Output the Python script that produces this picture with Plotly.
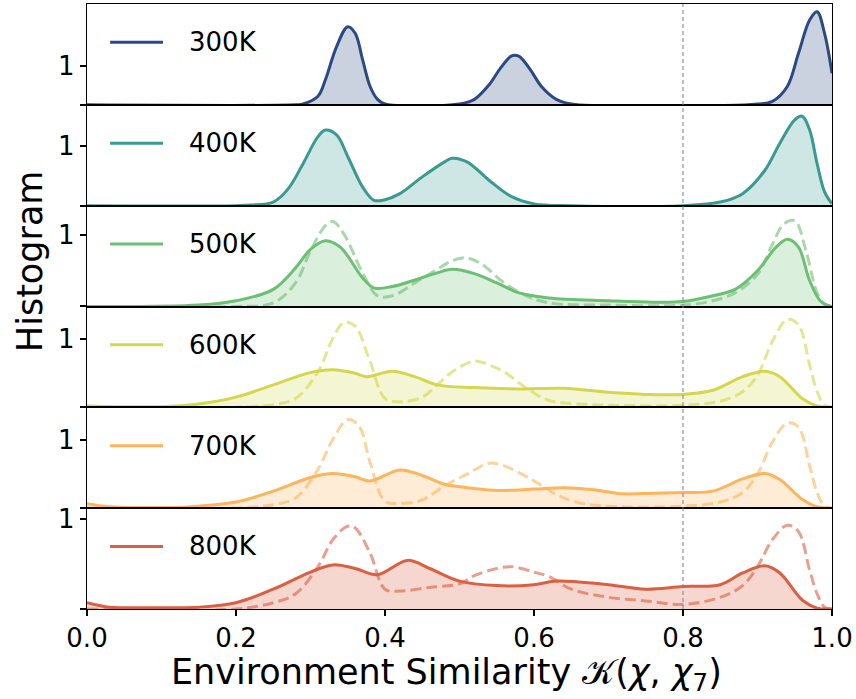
import plotly.graph_objects as go
from plotly.subplots import make_subplots

labels = ["300K", "400K", "500K", "600K", "700K", "800K"]
colors = ["#2b4a84", "#3a9a92", "#6dbf73", "#d4d64c", "#fdb45a", "#db5f43"]

x300 = [0, 0.28, 0.29, 0.31, 0.32, 0.335, 0.35, 0.36, 0.37, 0.38, 0.39, 0.40, 0.50, 0.52, 0.54, 0.555, 0.57, 0.58, 0.595, 0.61, 0.63, 0.65, 0.90, 0.92, 0.94, 0.955, 0.97, 0.98, 0.99, 1.0]
y300 = [0, 0, 0.02, 0.22, 0.64, 1.49, 2.0, 1.83, 1.15, 0.47, 0.14, 0.02, 0.02, 0.14, 0.52, 0.94, 1.25, 1.24, 0.90, 0.47, 0.14, 0.02, 0.02, 0.09, 0.47, 1.32, 2.17, 2.38, 1.83, 0.81]

x400 = [0, 0.20, 0.22, 0.25, 0.27, 0.29, 0.31, 0.32, 0.335, 0.35, 0.37, 0.385, 0.40, 0.42, 0.45, 0.48, 0.49, 0.51, 0.54, 0.57, 0.60, 0.65, 0.80, 0.85, 0.88, 0.91, 0.93, 0.95, 0.96, 0.97, 0.98, 0.99, 1.0]
y400 = [0, 0, 0.01, 0.06, 0.28, 0.70, 1.15, 1.26, 1.18, 0.82, 0.31, 0.09, 0.10, 0.20, 0.48, 0.73, 0.79, 0.73, 0.42, 0.15, 0.03, 0.0, 0.0, 0.06, 0.20, 0.59, 1.04, 1.43, 1.49, 1.26, 0.70, 0.23, 0.03]

x500 = [0, 0.15, 0.20, 0.25, 0.28, 0.30, 0.32, 0.34, 0.37, 0.385, 0.41, 0.44, 0.47, 0.49, 0.52, 0.55, 0.58, 0.62, 0.70, 0.76, 0.80, 0.84, 0.87, 0.90, 0.925, 0.94, 0.955, 0.97, 0.985, 1.0]
y500 = [0, 0.02, 0.08, 0.24, 0.54, 0.80, 0.92, 0.83, 0.40, 0.26, 0.28, 0.37, 0.47, 0.52, 0.46, 0.33, 0.19, 0.12, 0.08, 0.06, 0.07, 0.15, 0.24, 0.50, 0.83, 0.94, 0.83, 0.36, 0.07, 0]
x500_ref = [0, 0.20, 0.25, 0.28, 0.30, 0.32, 0.33, 0.345, 0.37, 0.39, 0.41, 0.44, 0.47, 0.49, 0.51, 0.53, 0.56, 0.59, 0.62, 0.70, 0.80, 0.84, 0.87, 0.90, 0.92, 0.935, 0.95, 0.965, 0.98, 0.99, 1.0]
y500_ref = [0, 0, 0.05, 0.33, 0.78, 1.13, 1.19, 1.01, 0.47, 0.15, 0.15, 0.33, 0.52, 0.64, 0.68, 0.59, 0.33, 0.15, 0.05, 0.02, 0.02, 0.08, 0.19, 0.45, 0.87, 1.15, 1.20, 0.78, 0.19, 0.03, 0]

x600 = [0, 0.10, 0.15, 0.20, 0.25, 0.30, 0.33, 0.36, 0.375, 0.41, 0.44, 0.47, 0.52, 0.58, 0.64, 0.70, 0.75, 0.80, 0.84, 0.88, 0.91, 0.93, 0.96, 0.98, 1.0]
y600 = [0.02, 0.01, 0.05, 0.15, 0.33, 0.51, 0.55, 0.50, 0.45, 0.53, 0.45, 0.33, 0.29, 0.27, 0.28, 0.22, 0.19, 0.19, 0.25, 0.45, 0.53, 0.45, 0.13, 0.02, 0]
x600_ref = [0, 0.20, 0.25, 0.28, 0.31, 0.33, 0.345, 0.36, 0.38, 0.40, 0.42, 0.45, 0.47, 0.49, 0.52, 0.54, 0.56, 0.59, 0.62, 0.66, 0.70, 0.80, 0.85, 0.88, 0.90, 0.92, 0.94, 0.955, 0.97, 0.98, 0.99, 1.0]
y600_ref = [0, 0, 0.04, 0.13, 0.52, 1.01, 1.25, 1.19, 0.67, 0.13, 0.08, 0.15, 0.33, 0.52, 0.68, 0.62, 0.52, 0.28, 0.10, 0.05, 0.03, 0.03, 0.09, 0.23, 0.47, 0.97, 1.29, 1.21, 0.62, 0.23, 0.03, 0]

x700 = [0, 0.03, 0.10, 0.15, 0.20, 0.25, 0.30, 0.33, 0.36, 0.38, 0.42, 0.45, 0.48, 0.52, 0.55, 0.60, 0.64, 0.68, 0.72, 0.76, 0.80, 0.84, 0.88, 0.91, 0.93, 0.96, 0.98, 1.0]
y700 = [0.065, 0.02, 0.01, 0.03, 0.09, 0.25, 0.45, 0.51, 0.46, 0.40, 0.56, 0.48, 0.35, 0.29, 0.26, 0.28, 0.30, 0.27, 0.21, 0.22, 0.23, 0.25, 0.43, 0.51, 0.42, 0.13, 0.02, 0]
x700_ref = [0, 0.20, 0.25, 0.28, 0.31, 0.33, 0.35, 0.365, 0.38, 0.40, 0.42, 0.45, 0.48, 0.51, 0.54, 0.56, 0.60, 0.63, 0.66, 0.70, 0.80, 0.85, 0.88, 0.90, 0.92, 0.94, 0.955, 0.97, 0.98, 0.99, 1.0]
y700_ref = [0, 0, 0.05, 0.15, 0.57, 1.01, 1.30, 1.21, 0.67, 0.10, 0.07, 0.12, 0.33, 0.50, 0.66, 0.62, 0.40, 0.20, 0.08, 0.03, 0.03, 0.09, 0.23, 0.50, 0.97, 1.25, 1.19, 0.62, 0.23, 0.03, 0]

x800 = [0, 0.03, 0.05, 0.10, 0.15, 0.20, 0.25, 0.30, 0.33, 0.36, 0.39, 0.43, 0.46, 0.50, 0.55, 0.60, 0.63, 0.66, 0.70, 0.75, 0.80, 0.85, 0.88, 0.91, 0.93, 0.96, 0.98, 1.0]
y800 = [0.07, 0.02, 0.015, 0.015, 0.02, 0.07, 0.22, 0.41, 0.49, 0.45, 0.38, 0.54, 0.45, 0.31, 0.26, 0.27, 0.31, 0.30, 0.27, 0.22, 0.25, 0.27, 0.40, 0.48, 0.40, 0.10, 0.01, 0]
x800_ref = [0, 0.20, 0.25, 0.28, 0.31, 0.33, 0.35, 0.36, 0.38, 0.40, 0.42, 0.46, 0.50, 0.52, 0.55, 0.57, 0.60, 0.62, 0.65, 0.70, 0.75, 0.80, 0.85, 0.88, 0.90, 0.92, 0.94, 0.955, 0.97, 0.98, 0.99, 1.0]
y800_ref = [0, 0, 0.07, 0.17, 0.47, 0.77, 0.92, 0.90, 0.62, 0.22, 0.20, 0.24, 0.28, 0.37, 0.45, 0.47, 0.41, 0.36, 0.22, 0.13, 0.09, 0.05, 0.13, 0.26, 0.47, 0.77, 0.93, 0.86, 0.43, 0.17, 0.02, 0]

series = [(x300, y300), (x400, y400), (x500, y500), (x600, y600), (x700, y700), (x800, y800)]
refs = [None, None, (x500_ref, y500_ref), (x600_ref, y600_ref), (x700_ref, y700_ref), (x800_ref, y800_ref)]
y_tops = [2.58, 1.68, 1.41, 1.48, 1.48, 1.12]

x_ticks = [0.0, 0.2, 0.4, 0.6, 0.8, 1.0]
x_ticktext = ["0.0", "0.2", "0.4", "0.6", "0.8", "1.0"]


def rgba(hex_color, a):
    h = hex_color.lstrip("#")
    r, g, b = int(h[0:2], 16), int(h[2:4], 16), int(h[4:6], 16)
    return f"rgba({r},{g},{b},{a})"


FONT = "DejaVu Sans"
fig = make_subplots(rows=6, cols=1, shared_xaxes=True, vertical_spacing=0)

for i, ((xs, ys), ref, col, lab) in enumerate(zip(series, refs, colors, labels)):
    row = i + 1
    fig.add_trace(go.Scatter(x=xs, y=ys, mode="lines", line=dict(color=col, width=3, shape="spline", smoothing=1.0),
                             fill="tozeroy", fillcolor=rgba(col, 0.25), name=lab, showlegend=False),
                  row=row, col=1)
    if ref is not None:
        fig.add_trace(go.Scatter(x=ref[0], y=ref[1], mode="lines",
                                 line=dict(color=rgba(col, 0.6), width=3, dash="11px,5px", shape="spline", smoothing=1.0),
                                 showlegend=False, name=lab + " ref"),
                      row=row, col=1)
    fig.update_yaxes(range=[0, y_tops[i]], tickvals=[1], ticktext=["1"], ticks="outside", ticklen=6,
                     tickwidth=1.5, tickcolor="black", showline=True, mirror=True, linecolor="black", linewidth=1.3,
                     minor=dict(tickvals=[0], ticks="outside", ticklen=6, tickwidth=1.5, tickcolor="black",
                                showgrid=False),
                     showgrid=False, zeroline=False, automargin=False,
                     tickfont=dict(family=FONT, size=26, color="black"),
                     row=row, col=1)
    xa = "x" if row == 1 else f"x{row}"
    ya = "y" if row == 1 else f"y{row}"
    fig.add_shape(type="line", xref=xa, yref=f"{ya} domain", x0=0.031, x1=0.102, y0=0.62, y1=0.62,
                  line=dict(color=col, width=3))
    fig.add_annotation(xref=xa, yref=f"{ya} domain", x=0.134, y=0.62, xanchor="left", yanchor="middle",
                       text=lab, showarrow=False, font=dict(family=FONT, size=26, color="black"))

fig.update_xaxes(range=[0, 1], showline=True, mirror=True, linecolor="black", linewidth=1.3, showgrid=False,
                 zeroline=False, ticks="", showticklabels=False, automargin=False)
fig.update_xaxes(tickvals=x_ticks, ticktext=x_ticktext, ticks="outside", ticklen=6, tickwidth=1.5, tickcolor="black",
                 showticklabels=True, tickfont=dict(family=FONT, size=26, color="black"), row=6, col=1)

fig.add_shape(type="line", xref="x6", yref="paper", x0=0.8, x1=0.8, y0=0, y1=1, layer="above",
              line=dict(color="gray", width=1, dash="4px,3px"))

fig.add_annotation(xref="paper", yref="paper", x=-0.0765, y=0.575, text="Histogram", textangle=-90,
                   showarrow=False, xanchor="center", yanchor="middle",
                   font=dict(family=FONT, size=35, color="black"))
fig.add_annotation(xref="paper", yref="paper", x=0.482, y=-0.109,
                   text="Environment Similarity 𝒦(<i>χ</i>, <i>χ</i><sub>7</sub>)",
                   showarrow=False, xanchor="center", yanchor="middle",
                   font=dict(family=FONT, size=35, color="black"))

fig.update_layout(width=856, height=699, margin=dict(l=87, r=24, t=4, b=90), plot_bgcolor="white",
                  paper_bgcolor="white", showlegend=False, font=dict(family=FONT))

fig.write_html("out.html", config={"displayModeBar": False},
               post_script="document.body.style.margin='0';")
